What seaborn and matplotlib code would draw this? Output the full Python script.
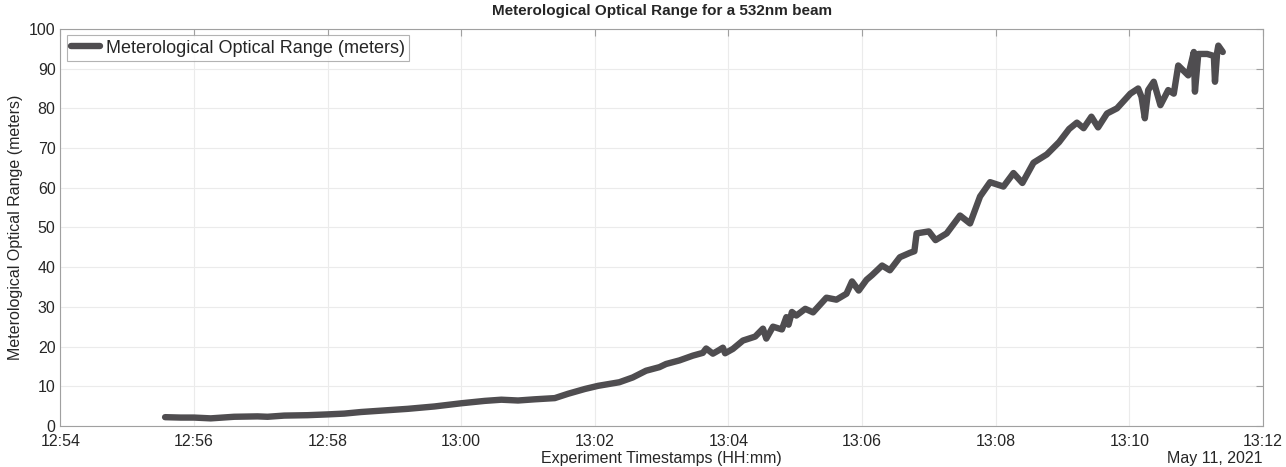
import matplotlib
matplotlib.use("Agg")
import matplotlib.pyplot as plt
import matplotlib.dates as mdates
import seaborn as sns
import pandas as pd

# timestamps (HH:MM:SS) and MOR readings
times = [
    "12:55:34", "12:55:48", "12:56:00", "12:56:15", "12:56:36", "12:56:57", "12:57:06",
    "12:57:21", "12:57:42", "12:58:00", "12:58:15", "12:58:30", "12:58:51", "12:59:12",
    "12:59:36", "13:00:00", "13:00:21", "13:00:36", "13:00:51", "13:01:06", "13:01:24",
    "13:01:36", "13:01:51", "13:02:03", "13:02:22", "13:02:34", "13:02:46", "13:02:58",
    "13:03:04", "13:03:16", "13:03:28", "13:03:37", "13:03:40", "13:03:46", "13:03:51",
    "13:03:55", "13:03:57", "13:04:04", "13:04:13", "13:04:24", "13:04:31", "13:04:34",
    "13:04:40", "13:04:48", "13:04:52", "13:04:54", "13:04:57", "13:05:01", "13:05:09",
    "13:05:16", "13:05:28", "13:05:37", "13:05:46", "13:05:51", "13:05:57", "13:06:04",
    "13:06:09", "13:06:18", "13:06:25", "13:06:34", "13:06:43", "13:06:47", "13:06:49",
    "13:07:00", "13:07:06", "13:07:16", "13:07:28", "13:07:37", "13:07:46", "13:07:55",
    "13:08:07", "13:08:16", "13:08:24", "13:08:34", "13:08:46", "13:08:57", "13:09:06",
    "13:09:13", "13:09:19", "13:09:26", "13:09:32", "13:09:40", "13:09:49", "13:10:01",
    "13:10:08", "13:10:11", "13:10:14", "13:10:17", "13:10:22", "13:10:28", "13:10:35",
    "13:10:40", "13:10:44", "13:10:53", "13:10:58", "13:10:59", "13:11:02", "13:11:10",
    "13:11:16", "13:11:17", "13:11:19", "13:11:20", "13:11:24",
]
mor = [
    2.2, 2.1, 2.1, 1.9, 2.3, 2.4, 2.3,
    2.6, 2.7, 2.9, 3.1, 3.5, 3.9, 4.3,
    4.9, 5.7, 6.3, 6.6, 6.4, 6.7, 7.0,
    8.1, 9.3, 10.1, 11.0, 12.2, 13.9, 14.8,
    15.6, 16.5, 17.7, 18.4, 19.5, 18.2, 19.0,
    19.7, 18.3, 19.4, 21.5, 22.5, 24.5, 22.0,
    25.0, 24.3, 27.4, 25.5, 28.7, 27.8, 29.5,
    28.6, 32.3, 31.8, 33.3, 36.4, 34.1, 36.8,
    38.0, 40.4, 39.2, 42.5, 43.6, 44.0, 48.5,
    49.0, 46.8, 48.5, 53.0, 51.0, 57.8, 61.4,
    60.3, 63.7, 61.2, 66.3, 68.4, 71.5, 74.8,
    76.4, 75.0, 77.9, 75.2, 78.7, 80.0, 83.7,
    85.0, 82.9, 77.5, 84.6, 86.7, 80.8, 84.6,
    83.7, 90.8, 88.3, 94.2, 84.2, 93.7, 93.7,
    93.2, 86.7, 94.2, 95.8, 94.2,
]
x_ticks = ["12:54", "12:56", "12:58", "13:00", "13:02", "13:04", "13:06",
           "13:08", "13:10", "13:12"]
y_ticks = [0, 10, 20, 30, 40, 50, 60, 70, 80, 90, 100]

day = "2021-05-11 "
df = pd.DataFrame({"time": pd.to_datetime([day + t for t in times]), "mor": mor})
tick_times = pd.to_datetime([day + t for t in x_ticks])

sns.set_style("white")
plt.rcParams["font.family"] = ["Liberation Sans", "DejaVu Sans"]

fig, ax = plt.subplots(figsize=(12.86, 4.67), dpi=100)
fig.subplots_adjust(left=0.047, right=0.982, bottom=0.088, top=0.938)

sns.lineplot(data=df, x="time", y="mor", estimator=None, color="#4f4d50",
             linewidth=4.6, label="Meterological Optical Range (meters)", ax=ax)

ax.set_xlim(tick_times[0], tick_times[-1])
ax.set_ylim(0, 100)
ax.set_xticks(tick_times)
ax.xaxis.set_major_formatter(mdates.DateFormatter("%H:%M"))
ax.set_yticks(y_ticks)
ax.grid(True, color="#ebebeb", linewidth=0.8)
ax.tick_params(direction="in", length=5, color="#a0a0a0", labelsize=11.5,
               labelcolor="#262626", top=True, right=True)
ax.tick_params(axis="x", pad=6)
for s in ax.spines.values():
    s.set_visible(True)
    s.set_color("#a0a0a0")
    s.set_linewidth(0.8)

ax.set_title("Meterological Optical Range for a 532nm beam", fontsize=11,
             fontweight="bold", pad=10)
ax.set_xlabel("Experiment Timestamps (HH:mm)", fontsize=11.5, color="#262626")
ax.xaxis.set_label_coords(0.5, -0.063)
ax.set_ylabel("Meterological Optical Range (meters)", fontsize=11.5, labelpad=4,
              color="#262626")
ax.text(1.0, -0.063, "May 11, 2021", transform=ax.transAxes, ha="right",
        va="top", fontsize=11.5, color="#262626")

leg = ax.legend(loc="upper left", fontsize=13, frameon=True, fancybox=False,
                borderpad=0.25, handlelength=1.6, handletextpad=0.3,
                borderaxespad=0.35)
leg.get_frame().set_edgecolor("#a0a0a0")
leg.get_frame().set_linewidth(0.8)

fig.savefig("out.png", dpi=100)
